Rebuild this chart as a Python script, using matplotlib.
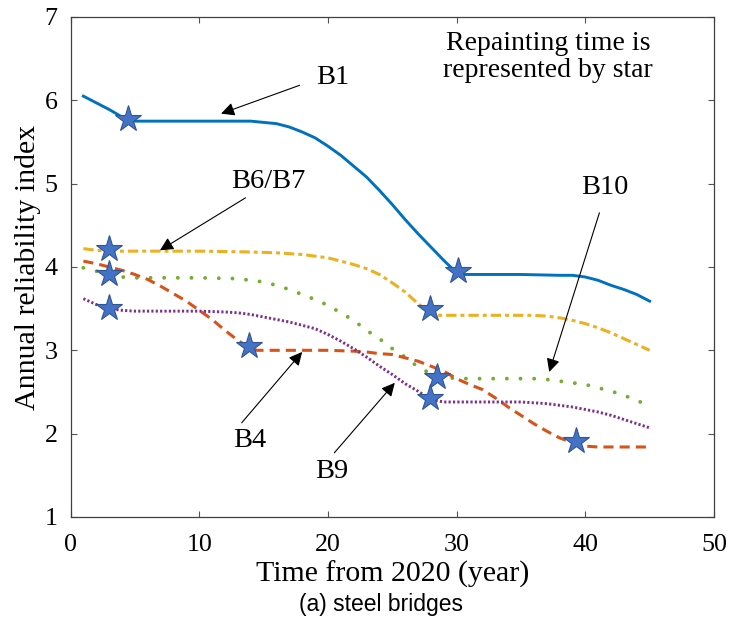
import matplotlib.pyplot as plt

plt.rcParams['font.family'] = ['Liberation Serif', 'DejaVu Serif']

# B1 (solid blue)
t_b1 = [1, 2, 3, 4, 4.5, 5, 10, 14, 16, 17, 18, 19, 20, 21, 22, 23, 24, 25, 26, 27, 28, 29, 30,
        30.5, 35, 38, 39, 40, 41, 42, 43, 44, 45]
b1 = [6.05, 5.97, 5.89, 5.80, 5.76, 5.75, 5.75, 5.75, 5.72, 5.68, 5.62, 5.55, 5.45, 5.34, 5.21,
      5.08, 4.92, 4.75, 4.57, 4.40, 4.24, 4.08, 3.93, 3.91, 3.91, 3.90, 3.90, 3.88, 3.84, 3.78,
      3.73, 3.67, 3.59]

# B6/B7 (dash-dot yellow)
t_b6 = [1, 2, 3, 5, 10, 14, 16, 18, 20, 21, 22, 23, 24, 25, 26, 27, 28, 28.5, 33, 36, 37, 38,
        39, 40, 41, 42, 43, 44, 45]
b6 = [4.22, 4.20, 4.19, 4.19, 4.19, 4.18, 4.17, 4.15, 4.11, 4.07, 4.03, 3.98, 3.91, 3.81, 3.70,
      3.56, 3.45, 3.42, 3.42, 3.42, 3.41, 3.39, 3.36, 3.32, 3.27, 3.21, 3.14, 3.07, 3.00]

# B10 (dotted green)
t_b10 = [1, 2, 3, 4, 5, 10, 13, 15, 16, 17, 18, 19, 20, 21, 22, 23, 24, 25, 26, 27, 28, 29, 30,
         35, 36, 37, 38, 39, 40, 41, 42, 43, 44, 45]
b10 = [3.99, 3.95, 3.91, 3.88, 3.87, 3.87, 3.86, 3.82, 3.78, 3.73, 3.67, 3.61, 3.54, 3.45, 3.36,
       3.24, 3.14, 3.02, 2.92, 2.80, 2.72, 2.68, 2.66, 2.66, 2.66, 2.65, 2.63, 2.61, 2.59, 2.55,
       2.51, 2.46, 2.40, 2.33]

# B4 (dashed red)
t_b4 = [1, 2, 3, 4, 5, 6, 7, 8, 9, 10, 11, 12, 13, 14, 14.5, 20, 22, 23, 24, 25, 26, 27, 28, 29,
        30, 31, 32, 33, 34, 35, 36, 37, 38, 39, 40, 41, 45]
b4 = [4.07, 4.04, 4.00, 3.96, 3.91, 3.85, 3.77, 3.68, 3.59, 3.48, 3.37, 3.24, 3.12, 3.02, 3.00,
      3.00, 2.99, 2.98, 2.96, 2.95, 2.91, 2.87, 2.81, 2.75, 2.66, 2.59, 2.53, 2.43, 2.32, 2.22,
      2.12, 2.03, 1.95, 1.89, 1.85, 1.84, 1.84]

# B9 (dense dotted purple)
t_b9 = [1, 2, 3, 4, 5, 10, 12, 13, 14, 15, 16, 17, 18, 19, 20, 21, 22, 23, 24, 25, 26, 27, 28,
        29, 35, 36, 37, 38, 39, 40, 41, 42, 43, 44, 45]
b9 = [3.62, 3.55, 3.50, 3.48, 3.47, 3.47, 3.46, 3.45, 3.43, 3.40, 3.37, 3.34, 3.30, 3.26, 3.19,
      3.11, 3.02, 2.92, 2.81, 2.71, 2.60, 2.51, 2.41, 2.38, 2.38, 2.37, 2.36, 2.34, 2.32, 2.29,
      2.26, 2.22, 2.17, 2.12, 2.07]

# repainting times (stars)
star_t = [4.5, 30.1, 3.0, 27.9, 3.0, 28.5, 3.0, 27.9, 13.9, 39.3]
star_v = [5.78, 3.95, 4.22, 3.49, 3.91, 2.68, 3.51, 2.43, 3.05, 1.91]

fig = plt.figure(figsize=(7.33, 6.24), dpi=100)
ax = fig.add_axes([0.0962, 0.1715, 0.8778, 0.8013])

ax.plot(t_b1, b1, color='#0072BD', lw=2.1)
ax.plot(t_b6, b6, color='#EDB120', lw=2.2, linestyle=(0, (3.4, 1.3, 1.3, 1.3)))
ax.plot(t_b10, b10, color='#77AC30', lw=2.8, linestyle=(0, (0.01, 3.5)),
        dash_capstyle='round')
ax.plot(t_b4, b4, color='#D95319', lw=2.2, linestyle=(0, (3.3, 2.0)))
ax.plot(t_b9, b9, color='#7E2F8E', lw=2.1, linestyle=(0, (0.75, 0.75)))
ax.plot(star_t, star_v, linestyle='none', marker='*', markersize=20,
        markerfacecolor='#4472C4', markeredgecolor='#2F5597', markeredgewidth=0.8, zorder=5)

arrow = dict(arrowstyle='-|>', color='black', lw=0.8, mutation_scale=20, shrinkA=0, shrinkB=0)
lab_fs = 20.5
ax.annotate('', xy=(11.7, 5.84), xytext=(17.8, 6.18), arrowprops=arrow)
ax.text(20.4, 6.27, 'B1', fontsize=lab_fs, ha='center', va='center')
ax.annotate('', xy=(6.95, 4.20), xytext=(13.6, 4.83), arrowprops=arrow)
ax.text(15.4, 5.03, 'B6/B7', fontsize=lab_fs, ha='center', va='center')
ax.annotate('', xy=(37.2, 2.74), xytext=(41.1, 4.65), arrowprops=arrow)
ax.text(41.5, 4.95, 'B10', fontsize=lab_fs, ha='center', va='center')
ax.annotate('', xy=(18.0, 2.98), xytext=(13.3, 2.13), arrowprops=arrow)
ax.text(13.95, 1.92, 'B4', fontsize=lab_fs, ha='center', va='center')
ax.annotate('', xy=(25.2, 2.61), xytext=(20.5, 1.77), arrowprops=arrow)
ax.text(20.3, 1.54, 'B9', fontsize=lab_fs, ha='center', va='center')
ax.text(37.1, 6.52, 'Repainting time is\nrepresented by star', fontsize=20,
        ha='center', va='center', linespacing=1.15)

ax.set_xlim(0, 50)
ax.set_ylim(1, 7)
ax.set_xticks([0, 10, 20, 30, 40, 50])
ax.set_yticks([1, 2, 3, 4, 5, 6, 7])
ax.tick_params(direction='in', top=True, right=True, length=4.5, width=0.8,
               color='#555555', labelsize=18.7)
ax.tick_params(axis='x', pad=12.5)
ax.tick_params(axis='y', pad=9.5)
for s in ax.spines.values():
    s.set_color('#404040')
    s.set_linewidth(0.9)

ax.set_xlabel('Time from 2020 (year)', fontsize=21.5)
ax.set_ylabel('Annual reliability index', fontsize=21.5)
ax.xaxis.set_label_coords(0.5, -0.088)
ax.yaxis.set_label_coords(-0.046, 0.5)

fig.text(0.52, 1 - 604 / 624, '(a) steel bridges', fontsize=16.5, family='Liberation Sans',
         ha='center', va='center')

fig.savefig('out.png', dpi=100)
